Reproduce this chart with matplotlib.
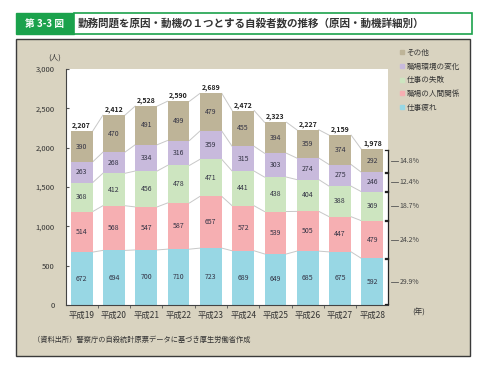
import matplotlib.pyplot as plt
from matplotlib.patches import Rectangle
from matplotlib.lines import Line2D

plt.rcParams['font.family'] = ['Noto Sans CJK JP', 'DejaVu Sans']

years = ["平成19", "平成20", "平成21", "平成22", "平成23",
         "平成24", "平成25", "平成26", "平成27", "平成28"]
tsukare = [672, 694, 700, 710, 723, 689, 649, 685, 675, 592]
ningen = [514, 568, 547, 587, 657, 572, 539, 505, 447, 479]
shippai = [368, 412, 456, 478, 471, 441, 438, 404, 388, 369]
kankyo = [263, 268, 334, 316, 359, 315, 303, 274, 275, 246]
sonota = [390, 470, 491, 499, 479, 455, 394, 359, 374, 292]
totals = [2207, 2412, 2528, 2590, 2689, 2472, 2323, 2227, 2159, 1978]
pct_labels = ["29.9%", "24.2%", "18.7%", "12.4%", "14.8%"]

names = ["仕事疲れ", "職場の人間関係", "仕事の失敗", "職場環境の変化", "その他"]
colors = ["#98D7E4", "#F6AFB2", "#CDE5C0", "#C8BADC", "#BEB498"]
series = [tsukare, ningen, shippai, kankyo, sonota]

fig = plt.figure(figsize=(4.8, 3.65), dpi=100)
fig.patch.set_facecolor("white")

# beige panel
fig.patches.append(Rectangle((16/480, 1-356/365), 454/480, 317/365, transform=fig.transFigure,
                             facecolor="#D9D3C0", edgecolor="#3a3a3a", lw=1.0, zorder=-10))
# title bar
fig.patches.append(Rectangle((16/480, 1-34/365), 58/480, 21/365, transform=fig.transFigure,
                             facecolor="#1BA24C", edgecolor="#1BA24C", lw=1, zorder=-9))
fig.patches.append(Rectangle((74/480, 1-34/365), 398/480, 21/365, transform=fig.transFigure,
                             facecolor="white", edgecolor="#1BA24C", lw=1.2, zorder=-9))
fig.text(45/480, 1-23.5/365, "第 3-3 図", color="white", fontsize=7, fontweight="bold",
         ha="center", va="center")
fig.text(78/480, 1-23.5/365, "勤務問題を原因・動機の１つとする自殺者数の推移（原因・動機詳細別）",
         color="#333333", fontsize=7.6, fontweight="bold", ha="left", va="center")

ax = fig.add_axes([66/480, 1-305/365, 322/480, 236/365])
ax.set_zorder(2)
ax.set_facecolor("white")

x = list(range(len(years)))
width = 0.68
bottom = [0] * len(x)
tops_all = []
for vals, c, n in zip(series, colors, names):
    ax.bar(x, vals, width, bottom=bottom, color=c, label=n, zorder=2)
    for i in x:
        ax.text(i, bottom[i] + vals[i] / 2, str(vals[i]), ha="center", va="center",
                fontsize=5, color="#333344", zorder=3)
    bottom = [b + v for b, v in zip(bottom, vals)]
    tops_all.append(list(bottom))

# series lines
for tops in tops_all:
    for i in range(len(x) - 1):
        ax.plot([i + width / 2, i + 1 - width / 2], [tops[i], tops[i + 1]],
                color="#C8C8C8", lw=0.7, zorder=1)

for i in x:
    ax.text(i, totals[i] + 25, f"{totals[i]:,}", ha="center", va="bottom",
            fontsize=5, fontweight="bold", color="#222222")

ax.set_xlim(-0.48, 9.48)
ax.set_ylim(0, 3000)
ax.set_yticks(range(0, 3001, 500))
ax.set_yticklabels([f"{v:,}" for v in range(0, 3001, 500)], fontsize=5.5, color="#333333")
ax.set_xticks(x)
ax.set_xticklabels(years, fontsize=6, color="#333333")
ax.set_xticks([i + 0.5 for i in x[:-1]], minor=True)
ax.tick_params(axis="x", which="major", length=0, pad=4)
ax.tick_params(axis="x", which="minor", length=2.5, direction="out", color="#555555")
ax.tick_params(axis="y", length=2, direction="in", color="#555555", pad=8)
for s in ["top", "right"]:
    ax.spines[s].set_visible(False)
ax.spines["left"].set_color("#444444")
ax.spines["bottom"].set_color("#444444")
ax.spines["left"].set_linewidth(0.8)
ax.spines["bottom"].set_linewidth(0.8)

fig.text(55/480, 1-58/365, "(人)", fontsize=5.5, color="#333333", ha="center", va="center")
fig.text(419/480, 1-313/365, "(年)", fontsize=5.5, color="#333333", ha="center", va="center")

# brackets with share of last year
last = len(x) - 1
lo = 0
xb = 9.48
for vals, lab in zip(series, pct_labels):
    hi = lo + vals[last]
    y0, y1 = lo + 8, hi - 8
    ax.plot([xb, xb], [y0, y1], color="#222222", lw=0.9, clip_on=False, zorder=4)
    ax.plot([xb - 0.08, xb], [y0, y0], color="#222222", lw=0.9, clip_on=False, zorder=4)
    ax.plot([xb - 0.08, xb], [y1, y1], color="#222222", lw=0.9, clip_on=False, zorder=4)
    ym = (lo + hi) / 2
    ax.plot([xb + 0.1, xb + 0.3], [ym, ym], color="#555555", lw=0.6, clip_on=False)
    ax.text(xb + 0.36, ym, lab, fontsize=5, color="#444444", va="center", ha="left")
    lo = hi

handles = [Line2D([], [], marker="s", ls="", markersize=2.6, color=c) for c in colors]
leg = fig.legend(handles[::-1], names[::-1], loc="upper left", bbox_to_anchor=(395/480, 1-45/365),
                 frameon=False, fontsize=5.5, labelspacing=0.75, handletextpad=0.2,
                 handlelength=0.8, borderpad=0)
for t in leg.get_texts():
    t.set_color("#333333")

fig.text(33/480, 1-340/365, "（資料出所）警察庁の自殺統計原票データに基づき厚生労働省作成",
         fontsize=5.2, color="#333333", ha="left", va="center")

fig.savefig("out.png", dpi=100)
